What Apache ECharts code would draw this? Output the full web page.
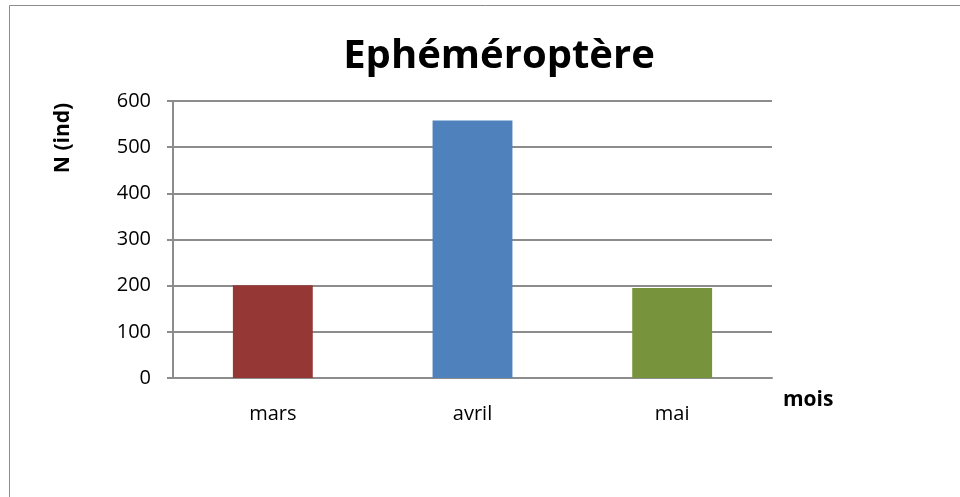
<!DOCTYPE html>
<html>
<head>
<meta charset="utf-8">
<script src="https://cdn.jsdelivr.net/npm/echarts@6/dist/echarts.min.js"></script>
<style>
    html, body { margin: 0; padding: 0; background: #fff; }
    #chart { width: 960px; height: 497px; }
</style>
</head>
<body>
<div id="chart"></div>
<script>
    // données
    const mois = ['mars', 'avril', 'mai'];
    const effectifs = [201, 558, 195];
    const couleurs = ['#953735', '#4F81BD', '#77933C'];
    const yTicks = [0, 100, 200, 300, 400, 500, 600];

    const chart = echarts.init(document.getElementById('chart'));
    const font = '"Open Sans", sans-serif';

    chart.setOption({
        animation: false,
        title: {
            text: 'Ephéméroptère',
            left: 494,
            top: 32,
            textAlign: 'center',
            textStyle: { fontFamily: font, fontWeight: 'bold', fontSize: 40, color: '#000' }
        },
        grid: { left: 173, right: 188, top: 101, bottom: 119 },
        graphic: [
            {
                type: 'rect',
                shape: { x: 9.5, y: 5.5, width: 1200, height: 1200 },
                style: { fill: 'none', stroke: '#8c8c8c', lineWidth: 1 },
                silent: true
            },
            {
                type: 'text',
                x: 63, y: 138,
                rotation: Math.PI / 2,
                style: {
                    text: 'N (ind)', fontFamily: font, fontWeight: 'bold', fontSize: 21,
                    fill: '#000', align: 'center', verticalAlign: 'middle'
                }
            }
        ],
        xAxis: {
            type: 'category',
            data: mois,
            name: 'mois',
            nameLocation: 'end',
            nameGap: 11,
            nameTextStyle: { fontFamily: font, fontWeight: 'bold', fontSize: 21, color: '#000', verticalAlign: 'top', padding: [12, 0, 0, 0] },
            axisLine: { lineStyle: { color: '#8c8c8c', width: 2 } },
            axisTick: { show: false },
            axisLabel: { fontFamily: font, fontSize: 20, color: '#000', margin: 26 }
        },
        yAxis: {
            type: 'value',
            min: yTicks[0],
            max: yTicks[yTicks.length - 1],
            interval: 100,
            axisLine: { show: true, lineStyle: { color: '#8c8c8c', width: 2 } },
            axisTick: { show: true, length: 6, lineStyle: { color: '#8c8c8c', width: 2 } },
            splitLine: { lineStyle: { color: '#8c8c8c', width: 2 } },
            axisLabel: { fontFamily: font, fontSize: 20, color: '#000', margin: 22 }
        },
        series: [{
            type: 'bar',
            barWidth: '40%',
            data: effectifs.map((v, i) => ({ value: v, itemStyle: { color: couleurs[i] } }))
        }]
    });
</script>
</body>
</html>
